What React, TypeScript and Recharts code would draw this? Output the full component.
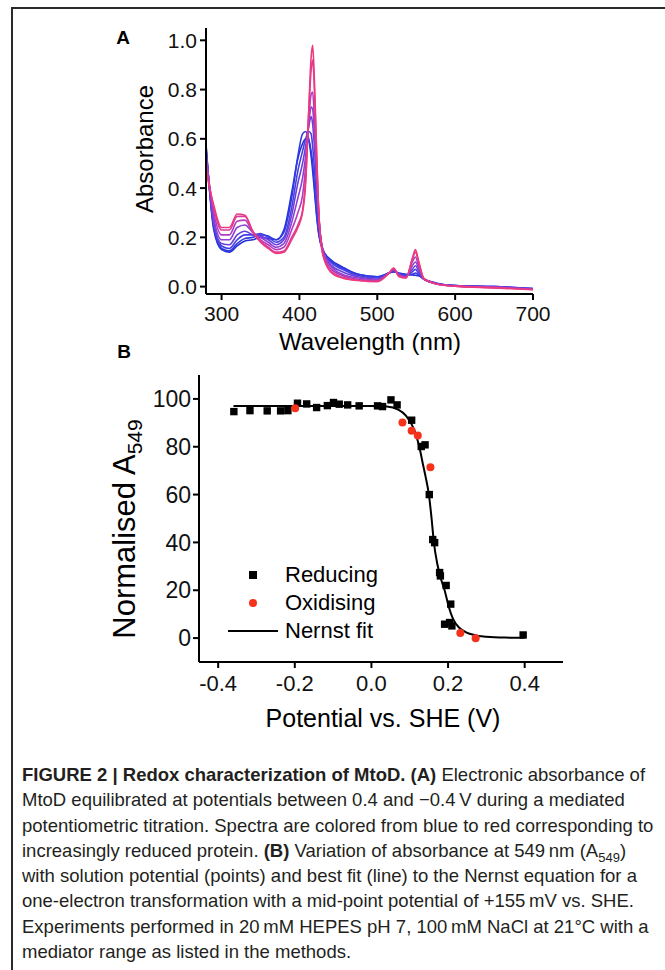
import { ComposedChart, Line, LineChart, Scatter, XAxis, YAxis } from 'recharts'

// Panel A: absorbance spectra, oxidised (blue) -> reduced (pink)
const wavelengths = [280, 290, 300, 310, 320, 330, 340, 350, 360, 370, 380, 390, 398, 404, 408, 412, 415, 417, 419, 422, 425, 430, 440, 455, 475, 500, 515, 521, 528, 537, 545, 549, 553, 560, 575, 600, 650, 700]

const spectra = [
  [0.58, 0.23, 0.15, 0.14, 0.165, 0.185, 0.19, 0.2, 0.195, 0.19, 0.23, 0.38, 0.52, 0.58, 0.6, 0.59, 0.53, 0.47, 0.4, 0.29, 0.21, 0.15, 0.11, 0.08, 0.05, 0.04, 0.055, 0.06, 0.055, 0.05, 0.047, 0.046, 0.044, 0.03, 0.015, 0.004, 0, -0.008],
  [0.57, 0.24, 0.155, 0.145, 0.175, 0.195, 0.2, 0.21, 0.205, 0.19, 0.22, 0.36, 0.53, 0.62, 0.63, 0.6, 0.55, 0.5, 0.42, 0.3, 0.21, 0.15, 0.105, 0.075, 0.05, 0.04, 0.055, 0.062, 0.052, 0.048, 0.05, 0.055, 0.048, 0.03, 0.014, 0.004, 0, -0.008],
  [0.56, 0.25, 0.165, 0.155, 0.19, 0.21, 0.21, 0.215, 0.2, 0.18, 0.2, 0.32, 0.47, 0.55, 0.6, 0.63, 0.62, 0.57, 0.49, 0.35, 0.24, 0.15, 0.1, 0.07, 0.045, 0.035, 0.055, 0.065, 0.05, 0.045, 0.06, 0.07, 0.055, 0.03, 0.013, 0.004, 0, -0.009],
  [0.55, 0.26, 0.175, 0.17, 0.21, 0.225, 0.21, 0.205, 0.19, 0.17, 0.19, 0.29, 0.42, 0.5, 0.57, 0.65, 0.69, 0.66, 0.58, 0.42, 0.27, 0.15, 0.09, 0.06, 0.04, 0.03, 0.055, 0.067, 0.05, 0.042, 0.07, 0.085, 0.065, 0.03, 0.013, 0.003, -0.001, -0.01],
  [0.54, 0.28, 0.19, 0.19, 0.24, 0.25, 0.22, 0.2, 0.18, 0.16, 0.175, 0.26, 0.36, 0.44, 0.53, 0.66, 0.73, 0.72, 0.64, 0.46, 0.28, 0.15, 0.085, 0.05, 0.035, 0.028, 0.055, 0.07, 0.048, 0.04, 0.085, 0.1, 0.075, 0.03, 0.012, 0.003, -0.002, -0.01],
  [0.52, 0.3, 0.21, 0.21, 0.265, 0.27, 0.22, 0.19, 0.17, 0.15, 0.16, 0.23, 0.3, 0.37, 0.49, 0.68, 0.78, 0.79, 0.7, 0.5, 0.29, 0.145, 0.075, 0.045, 0.03, 0.025, 0.055, 0.072, 0.045, 0.038, 0.1, 0.12, 0.085, 0.03, 0.012, 0.002, -0.003, -0.011],
  [0.49, 0.32, 0.23, 0.23, 0.285, 0.285, 0.225, 0.185, 0.16, 0.14, 0.145, 0.2, 0.25, 0.31, 0.44, 0.71, 0.88, 0.92, 0.82, 0.54, 0.29, 0.135, 0.065, 0.038, 0.026, 0.022, 0.055, 0.074, 0.042, 0.036, 0.11, 0.14, 0.1, 0.032, 0.012, 0.002, -0.004, -0.012],
  [0.47, 0.33, 0.24, 0.24, 0.295, 0.29, 0.225, 0.18, 0.155, 0.135, 0.14, 0.19, 0.24, 0.3, 0.42, 0.72, 0.93, 0.98, 0.86, 0.56, 0.29, 0.13, 0.06, 0.035, 0.025, 0.02, 0.055, 0.075, 0.04, 0.035, 0.115, 0.15, 0.105, 0.032, 0.012, 0.002, -0.005, -0.013],
]
const spectrumColors = ['#2530d6', '#2f3be2', '#4640e2', '#6a40dc', '#8c3fd4', '#b23cc0', '#d63a9e', '#ee3a7c']
const absTicks = [0, 0.2, 0.4, 0.6, 0.8, 1.0]
const wlTicks = [300, 400, 500, 600, 700]

// Panel B: normalised A549 vs potential
const reducing = [
  [-0.359, 94.7], [-0.317, 95.1], [-0.272, 95.0], [-0.237, 95.0], [-0.218, 95.1], [-0.193, 98.2],
  [-0.169, 97.9], [-0.143, 96.4], [-0.115, 97.2], [-0.099, 98.5], [-0.084, 97.8], [-0.062, 97.5],
  [-0.032, 97.1], [0.016, 97.1], [0.029, 96.8], [0.051, 99.6], [0.067, 97.5], [0.105, 91.1],
  [0.13, 80.1], [0.14, 80.8], [0.151, 60.0], [0.16, 41.2], [0.165, 39.9], [0.178, 27.4],
  [0.18, 26.0], [0.195, 22.0], [0.207, 14.2], [0.191, 5.8], [0.204, 6.5], [0.21, 5.1], [0.396, 1.3],
]
const oxidising = [
  [-0.199, 96.1], [0.081, 90.1], [0.105, 86.7], [0.121, 84.7], [0.154, 71.4], [0.232, 2.1], [0.272, -0.1],
]
const fitPotential = [-0.36, -0.2, 0, 0.04, 0.07, 0.09, 0.112, 0.125, 0.134, 0.142, 0.15, 0.157, 0.163, 0.172, 0.181, 0.191, 0.202, 0.213, 0.23, 0.247, 0.27, 0.3, 0.35, 0.4]
const fitValue = [97, 97, 97, 96.8, 95.5, 93, 87, 80, 73, 67, 60, 50, 40, 31, 25, 20, 13, 8, 4.2, 2.4, 1.2, 0.6, 0.2, 0.1]
const potTicks = [-0.4, -0.2, 0, 0.2, 0.4]
const normTicks = [0, 20, 40, 60, 80, 100]
const legendItems = ['Reducing', 'Oxidising', 'Nernst fit']

const font = '"Liberation Sans", Arial, Helvetica, sans-serif'

const spectraData = wavelengths.map((w, i) => {
  const row: Record<string, number> = { w }
  spectra.forEach((s, k) => { row['s' + k] = s[i] })
  return row
})
const reducingData = reducing.map(([x, y]) => ({ x, y }))
const oxidisingData = oxidising.map(([x, y]) => ({ x, y }))
const fitData = fitPotential.map((x, i) => ({ x, y: fitValue[i] }))

const axisProps = {
  axisLine: { stroke: '#000', strokeWidth: 2 },
  tickLine: { stroke: '#000', strokeWidth: 2 },
  tickSize: 6,
}

const Square = (props: any) => <rect x={props.cx - 3.7} y={props.cy - 3.7} width={7.4} height={7.4} fill="#000" />
const Dot = (props: any) => <circle cx={props.cx} cy={props.cy} r={4} fill="#f5321c" />

function LegendBox() {
  const row = { display: 'flex', alignItems: 'center', height: 28 }
  const icons = [
    <rect x={21} y={10} width={8} height={8} fill="#000" />,
    <circle cx={25} cy={14} r={4} fill="#f5321c" />,
    <line x1={0} x2={50} y1={14} y2={14} stroke="#000" strokeWidth={2} />,
  ]
  return (
    <div style={{ position: 'absolute', left: 228, top: 561, fontFamily: font, fontSize: 22, color: '#000', lineHeight: 1 }}>
      {legendItems.map((name, i) => (
        <div key={name} style={row}>
          <svg width={57} height={28}>{icons[i]}</svg>
          <span>{name}</span>
        </div>
      ))}
    </div>
  )
}

const abs = (left: number, top: number, extra: React.CSSProperties = {}): React.CSSProperties => ({
  position: 'absolute', left, top, transform: 'translate(-50%, -50%)', whiteSpace: 'nowrap', lineHeight: 1, ...extra,
})

export default function App() {
  return (
    <div style={{ position: 'absolute', left: 0, top: 0, width: 665, height: 970, overflow: 'hidden', background: '#fff', fontFamily: font }}>
      <div style={{ position: 'absolute', left: 11, top: 7, width: 700, height: 1000, border: '2px solid #2a2a2a' }} />

      <div style={{ position: 'absolute', left: 0, top: 0 }}>
        <LineChart width={665} height={360} data={spectraData} margin={{ top: 28, right: 132, bottom: 0, left: 146 }}>
          <XAxis dataKey="w" type="number" domain={[280, 700]} ticks={wlTicks} allowDataOverflow height={66} tickMargin={6}
            tick={{ fill: '#111', fontSize: 21, fontFamily: font }} {...axisProps} />
          <YAxis type="number" domain={[-0.03, 1.05]} ticks={absTicks} allowDataOverflow width={60} tickMargin={3}
            tickFormatter={(v: number) => v.toFixed(1)} tick={{ fill: '#111', fontSize: 21, fontFamily: font }} {...axisProps} />
          {spectra.map((_, k) => (
            <Line key={k} dataKey={'s' + k} type="monotone" stroke={spectrumColors[k]} strokeWidth={1.6} dot={false} isAnimationActive={false} />
          ))}
        </LineChart>
      </div>

      <div style={{ position: 'absolute', left: 0, top: 350 }}>
        <ComposedChart width={665} height={380} margin={{ top: 25, right: 102, bottom: 18, left: 139 }}>
          <XAxis dataKey="x" type="number" domain={[-0.45, 0.5]} ticks={potTicks} allowDataOverflow height={50} tickMargin={7}
            tickFormatter={(v: number) => v.toFixed(1)} tick={{ fill: '#111', fontSize: 22, fontFamily: font }} {...axisProps} />
          <YAxis dataKey="y" type="number" domain={[-10, 110]} ticks={normTicks} allowDataOverflow width={60} tickMargin={2}
            tick={{ fill: '#111', fontSize: 23, fontFamily: font }} {...axisProps} />
          <Line data={fitData} dataKey="y" type="monotone" stroke="#000" strokeWidth={2} dot={false} isAnimationActive={false} />
          <Scatter data={reducingData} dataKey="y" shape={Square} isAnimationActive={false} />
          <Scatter data={oxidisingData} dataKey="y" shape={Dot} isAnimationActive={false} />
        </ComposedChart>
      </div>
      <LegendBox />

      <div style={abs(123, 37, { fontSize: 19, fontWeight: 700 })}>A</div>
      <div style={abs(124, 351, { fontSize: 19, fontWeight: 700 })}>B</div>
      <div style={abs(145, 149, { fontSize: 24, transform: 'translate(-50%, -50%) rotate(-90deg)' })}>Absorbance</div>
      <div style={abs(370, 342, { fontSize: 24 })}>Wavelength (nm)</div>
      <div style={abs(127, 529, { fontSize: 31, transform: 'translate(-50%, -50%) rotate(-90deg)' })}>
        Normalised A<sub style={{ fontSize: 21, verticalAlign: '-0.35em' }}>549</sub>
      </div>
      <div style={abs(383, 718, { fontSize: 25 })}>Potential vs. SHE (V)</div>

      <div style={{ position: 'absolute', left: 22, top: 762, fontSize: 18.5, lineHeight: '25.3px', color: '#231f20', whiteSpace: 'nowrap' }}>
        <div><b>FIGURE 2 | Redox characterization of MtoD. (A)</b> Electronic absorbance of</div>
        <div>MtoD equilibrated at potentials between 0.4 and −0.4{'\u2009'}V during a mediated</div>
        <div>potentiometric titration. Spectra are colored from blue to red corresponding to</div>
        <div>increasingly reduced protein. <b>(B)</b> Variation of absorbance at 549{'\u2009'}nm (A<sub style={{ fontSize: 13, lineHeight: 0 }}>549</sub>)</div>
        <div>with solution potential (points) and best fit (line) to the Nernst equation for a</div>
        <div>one-electron transformation with a mid-point potential of +155{'\u2009'}mV vs. SHE.</div>
        <div>Experiments performed in 20{'\u2009'}mM HEPES pH 7, 100{'\u2009'}mM NaCl at 21°C with a</div>
        <div>mediator range as listed in the methods.</div>
      </div>
    </div>
  )
}
